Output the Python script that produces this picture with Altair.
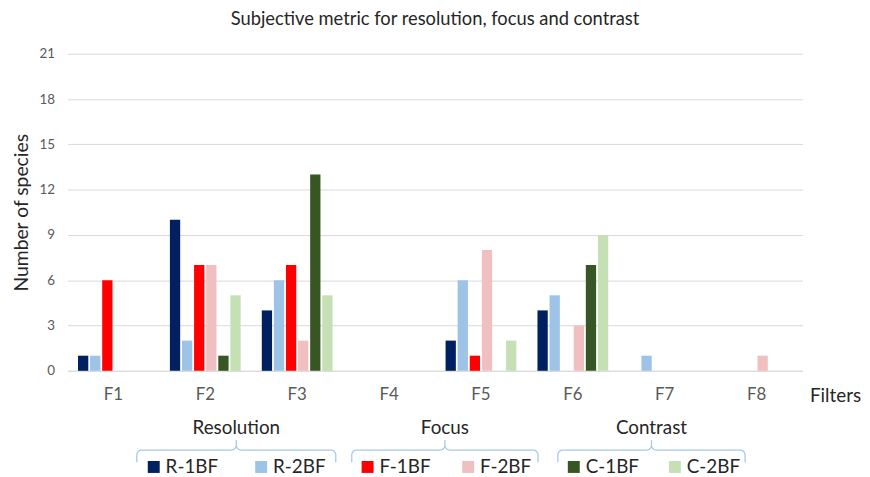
import math
import altair as alt
import pandas as pd

# ---------------- data ----------------
filters = ["F1", "F2", "F3", "F4", "F5", "F6", "F7", "F8"]
series = ["R-1BF", "R-2BF", "F-1BF", "F-2BF", "C-1BF", "C-2BF"]
r_1bf = [1, 10, 4, 0, 2, 4, 0, 0]
r_2bf = [1, 2, 6, 0, 6, 5, 1, 0]
f_1bf = [6, 7, 7, 0, 1, 0, 0, 0]
f_2bf = [0, 7, 2, 0, 8, 3, 0, 1]
c_1bf = [0, 1, 13, 0, 0, 7, 0, 0]
c_2bf = [0, 5, 5, 0, 2, 9, 0, 0]
groups = ["Resolution", "Focus", "Contrast"]
group_members = [["R-1BF", "R-2BF"], ["F-1BF", "F-2BF"], ["C-1BF", "C-2BF"]]
y_ticks = [0, 3, 6, 9, 12, 15, 18, 21]

# ---------------- styles / layout ----------------
colors = ["#002060", "#9DC3E6", "#FF0000", "#F0C0C0", "#375623", "#C5E0B4"]
FONT = "Lato"
W, H = 742, 320
# bracket spans in band units (x) and levels in value units (y)
spans = [(0.755, 2.92), (3.094, 5.121), (5.337, 7.375)]
LABEL_Y = -3.81
BR_H = -5.25
BR_P = -4.59
BR_B = -6.05
LEG_Y = -6.37
LEG_F = [0.085, 0.625]
RX, RY = 0.055, 0.33

values = [r_1bf, r_2bf, f_1bf, f_2bf, c_1bf, c_2bf]
rows = []
for s, vals in zip(series, values):
    for f, v in zip(filters, vals):
        rows.append({"filter": f, "series": s, "value": v})
df = pd.DataFrame(rows)

color_scale = alt.Scale(domain=series, range=colors)

bars = alt.Chart(df).transform_filter("datum.value > 0").mark_bar().encode(
    x=alt.X("filter:N", sort=filters,
            scale=alt.Scale(domain=filters, paddingInner=0.23, paddingOuter=0.115),
            axis=alt.Axis(title="Filters", labelAngle=0, ticks=False, grid=False,
                          domainColor="#d9d9d9", labelColor="#595959", labelFontSize=17,
                          labelFont=FONT, labelPadding=16,
                          titleFont=FONT, titleFontSize=19, titleFontWeight="normal",
                          titleColor="#262626", titleAngle=0, titleAlign="left",
                          titleBaseline="middle", titleX=749, titleY=25)),
    xOffset=alt.XOffset("series:N", scale=alt.Scale(domain=series, paddingInner=0.15)),
    y=alt.Y("value:Q", scale=alt.Scale(domain=[0, 21], nice=False),
            axis=alt.Axis(values=y_ticks, title="Number of species", domain=False,
                          ticks=False, gridColor="#d9d9d9", labelColor="#595959",
                          labelFontSize=13.5, labelFont=FONT, labelPadding=13,
                          titleFont=FONT, titleFontSize=19.5, titleFontWeight="normal",
                          titleColor="#262626", titlePadding=8)),
    color=alt.Color("series:N", scale=color_scale, legend=None),
)

# brackets
br_rows = []
for g, (L, R) in zip(groups, spans):
    M = (L + R) / 2
    pts = [(L, BR_B), (L, BR_H - RY)]
    n = 8
    for i in range(n + 1):
        t = math.pi / 2 * i / n
        pts.append((L + RX - RX * math.cos(t), BR_H - RY + RY * math.sin(t)))
    pts.append((M - RX, BR_H))
    for i in range(n + 1):
        t = math.pi / 2 * i / n
        pts.append((M - RX + RX * math.sin(t), BR_H + RY - RY * math.cos(t)))
    pts.append((M, BR_P))
    for i in range(n + 1):
        t = math.pi / 2 * i / n
        pts.append((M + RX - RX * math.cos(t), BR_H + RY - RY * math.sin(t)))
    pts.append((R - RX, BR_H))
    for i in range(n + 1):
        t = math.pi / 2 * i / n
        pts.append((R - RX + RX * math.sin(t), BR_H - RY + RY * math.cos(t)))
    pts.append((R, BR_B))
    for k, (px, py) in enumerate(pts):
        br_rows.append({"group": g, "order": k, "bx": px, "by": py})
br_df = pd.DataFrame(br_rows)

xa = alt.Scale(domain=[0, 8], nice=False, zero=False)
ya = alt.Scale(domain=[0, 21], nice=False)

brackets = alt.Chart(br_df).mark_line(color="#A9C9E8", strokeWidth=1.3).encode(
    x=alt.X("bx:Q", scale=xa, axis=None),
    y=alt.Y("by:Q", scale=ya, axis=None),
    detail="group:N",
    order="order:Q",
)

gl_df = pd.DataFrame({
    "group": groups,
    "gx": [(L + R) / 2 for L, R in spans],
    "gy": [LABEL_Y] * len(groups),
})
glabels = alt.Chart(gl_df).mark_text(font=FONT, fontSize=19, color="#262626").encode(
    x=alt.X("gx:Q", scale=xa, axis=None),
    y=alt.Y("gy:Q", scale=ya, axis=None),
    text="group:N",
)

lg_rows = []
for (L, R), mem in zip(spans, group_members):
    for f, s in zip(LEG_F, mem):
        lg_rows.append({"series": s, "lx": L + f * (R - L), "ly": LEG_Y})
lg_df = pd.DataFrame(lg_rows)

lsq = alt.Chart(lg_df).mark_square(size=145, opacity=1).encode(
    x=alt.X("lx:Q", scale=xa, axis=None),
    y=alt.Y("ly:Q", scale=ya, axis=None),
    color=alt.Color("series:N", scale=color_scale, legend=None),
)
ltxt = alt.Chart(lg_df).mark_text(font=FONT, fontSize=19, color="#262626",
                                  align="left", dx=12).encode(
    x=alt.X("lx:Q", scale=xa, axis=None),
    y=alt.Y("ly:Q", scale=ya, axis=None),
    text="series:N",
)

chart = alt.layer(bars, brackets, glabels, lsq, ltxt).resolve_scale(
    x="independent", y="independent"
).properties(
    width=W, height=H,
    autosize=alt.AutoSizeParams(type="none"),
    padding={"left": 60, "top": 44, "right": 60, "bottom": 105},
    title=alt.TitleParams("Subjective metric for resolution, focus and contrast",
                          font=FONT, fontSize=18.5, fontWeight="normal",
                          color="#262626", anchor="middle", offset=19),
).configure_view(stroke=None)

chart.save("out.html", embed_options={"renderer": "svg", "actions": False})
